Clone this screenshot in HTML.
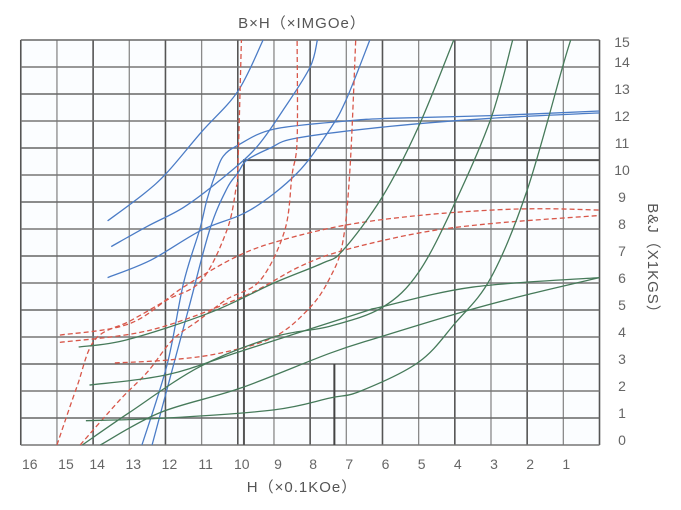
<!DOCTYPE html>
<html><head><meta charset="utf-8"><style>
html,body{margin:0;padding:0;background:#fff;}
svg{display:block;font-family:"Liberation Sans",sans-serif;}
</style></head><body>
<svg id="chart" width="681" height="510" viewBox="0 0 681 510">
<g id="grid"></g>
<g id="curves"></g>
<g id="labels"></g>
<text x="302" y="28" font-size="15" fill="#555" text-anchor="middle" letter-spacing="1">B×H（×IMGOe）</text>
<text x="302" y="492" font-size="15" fill="#555" text-anchor="middle" letter-spacing="1">H（×0.1KOe）</text>
<text transform="translate(648,262) rotate(90)" font-size="15" fill="#555" text-anchor="middle" letter-spacing="1">B&amp;J（X1KGS）</text>
</svg>
<script>
const xTicks=[16,15,14,13,12,11,10,9,8,7,6,5,4,3,2,1];
const yTicks=[0,1,2,3,4,5,6,7,8,9,10,11,12,13,14,15];
// blue curves (H, B)
const blueH1=[13.6,12.6,11.95,11.0,10.0,9.3];
const blueB1=[8.3,9.3,10.1,11.6,13.1,15];
const blueH2=[13.5,12.5,11.5,10.5,9.5,8.7,8.0,7.8];
const blueB2=[7.35,8.1,8.8,9.8,11.0,12.5,14.0,15];
const blueH3=[13.6,12.4,11.0,9.66,8.36,7.45,7.0,6.35];
const blueB3=[6.2,6.85,7.96,8.7,10.07,11.7,12.8,15];
const blueH4=[12.65,11.95,11.5,11.05,10.85,10.6,10.4,10.0,9.0,7.0,5.8,3.0,0];
const blueB4=[0,3,6,8,9.1,10.1,10.7,11.1,11.7,12.0,12.1,12.2,12.37];
const blueH5=[12.37,11.37,10.77,10.3,10.0,9.75,9.1,8.36,5.8,3.0,0];
const blueB5=[0,5,8,9.5,10.07,10.55,11.0,11.37,11.8,12.1,12.3];
// red dashed curves
const redH1=[15.0,14.45,13.95,12.97,11.96,11.0,10.3,10.05,10.0,9.9];
const redB1=[0,2.15,3.9,4.6,5.37,6.1,7.96,9.5,10.2,15];
const redH2=[14.36,13.26,12.5,11.8,11.1,10.3,9.38,8.7,8.5,8.36,8.36];
const redB2=[0,1.67,2.7,3.9,4.6,5.4,6.1,7.96,10,11.3,15];
const redH3=[13.4,11.9,10.5,9.0,8.0,7.45,7.1,6.9,6.74];
const redB3=[3.04,3.15,3.4,4.0,5.1,6.2,7.5,10.2,15];
const redH4=[14.92,12.98,11.5,10.0,8.75,7.0,5.0,3.0,1.5,0];
const redB4=[4.07,4.5,5.85,7.0,7.6,8.15,8.5,8.7,8.75,8.7];
const redH5=[14.92,12.4,9.85,8.3,7.1,5.0,3.0,0];
const redB5=[3.8,4.26,5.5,6.6,7.2,7.85,8.2,8.5];
// green curves
const greenH1=[14.4,13.06,10.77,9.0,7.65,7.1,6.0,5.0,4.0];
const greenB1=[3.63,3.9,4.9,6.0,6.74,7.2,9.2,11.8,15.1];
const greenH2=[14.1,11.96,9.85,6.6,6.07,3.5,0];
const greenB2=[2.22,2.6,3.5,4.9,5.1,5.85,6.2];
const greenH3=[14.3,13.0,11.05,9.0,7.45,6.0,5.0,4.0,3.0,2.4];
const greenB3=[0,1.2,2.9,4.0,4.4,5.1,6.4,8.96,12.1,15];
const greenH4=[13.8,12.15,9.94,7.45,6.07,3.6,1.9,0];
const greenB4=[0,1.2,2.1,3.4,4.0,5.0,5.6,6.2];
const greenH5=[14.2,11.96,9.0,7.45,6.6,5.0,4.0,3.0,2.0,1.0,0.77];
const greenB5=[0.9,1.0,1.3,1.74,2.0,3.07,4.5,6.2,9.44,14.1,15.1];

const NS='http://www.w3.org/2000/svg';
const X0=599.5, XS=36.17, Y0=445, YS=27;
function xAt(h){return X0-XS*h;}
function yAt(b){return Y0-YS*b;}
function mk(tag,attrs,parent){const e=document.createElementNS(NS,tag);for(const k in attrs)e.setAttribute(k,attrs[k]);parent.appendChild(e);return e;}
const grid=document.getElementById('grid');
const bg=mk('rect',{x:xAt(16),y:yAt(15),width:XS*16,height:YS*15,fill:'#fbfdff'},grid);


for(let i=0;i<=16;i++){
  const x=xAt(i);
  const dark=(i%2===0);
  const l=mk('line',{x1:x,y1:yAt(0),x2:x,y2:yAt(15),stroke:dark?'#555':'#8a8a8a','stroke-width':dark?1.6:1.3},grid);
  
  
}
for(let j=0;j<=15;j++){
  const y=yAt(j);
  const l=mk('line',{x1:xAt(16),y1:y,x2:xAt(0),y2:y,stroke:(j%2===0)?'#777':'#666','stroke-width':1.5},grid);
  
  
}
const m1=mk('polyline',{points:`${xAt(9.83)},${yAt(0)} ${xAt(9.83)},${yAt(10.55)} ${xAt(0)},${yAt(10.55)}`,fill:'none',stroke:'#555','stroke-width':2},grid);


const m2=mk('polyline',{points:`${xAt(7.33)},${yAt(0)} ${xAt(7.33)},${yAt(3)}`,fill:'none',stroke:'#444','stroke-width':2},grid);



const labels=document.getElementById('labels');
xTicks.forEach(h=>{
  const t=mk('text',{x:xAt(h)+(h>=15?9:h>=9?4:3),y:469,'font-size':14,fill:'#666','text-anchor':'middle'},labels);
  t.textContent=h;
  
  
});
yTicks.forEach(b=>{
  const t=mk('text',{x:622,y:yAt(b)+(b===15?7:0),'font-size':14,fill:'#666','text-anchor':'middle'},labels);
  t.textContent=b;
  
  
});

function pathFrom(hs,bs){
  const p=hs.map((h,i)=>[xAt(h),yAt(bs[i])]);
  let d=`M${p[0][0]},${p[0][1]}`;
  for(let i=0;i<p.length-1;i++){
    const p0=p[i-1]||p[i],p1=p[i],p2=p[i+1],p3=p[i+2]||p2;
    const c1=[p1[0]+(p2[0]-p0[0])/6,p1[1]+(p2[1]-p0[1])/6];
    const c2=[p2[0]-(p3[0]-p1[0])/6,p2[1]-(p3[1]-p1[1])/6];
    d+=` C${c1[0]},${c1[1]} ${c2[0]},${c2[1]} ${p2[0]},${p2[1]}`;
  }
  return d;
}
const curves=document.getElementById('curves');
const clip=mk('clipPath',{id:'cp'},curves);
mk('rect',{x:xAt(16),y:yAt(15),width:XS*16,height:YS*15},clip);
function draw(hs,bs,color,dash,name){
  const a={d:pathFrom(hs,bs),fill:'none',stroke:color,'stroke-width':1.3,'clip-path':'url(#cp)'};
  if(dash)a['stroke-dasharray']='5,3';
  const e=mk('path',a,curves);
  
  
}
const BLUE='#4b7cc6',RED='#d8574a',GREEN='#467a5a';
draw(blueH1,blueB1,BLUE,false,'blue-curve-1');
draw(blueH2,blueB2,BLUE,false,'blue-curve-2');
draw(blueH3,blueB3,BLUE,false,'blue-curve-3');
draw(blueH4,blueB4,BLUE,false,'blue-j-curve-1');
draw(blueH5,blueB5,BLUE,false,'blue-j-curve-2');
draw(redH1,redB1,RED,true,'red-curve-1');
draw(redH2,redB2,RED,true,'red-curve-2');
draw(redH3,redB3,RED,true,'red-curve-3');
draw(redH4,redB4,RED,true,'red-curve-4');
draw(redH5,redB5,RED,true,'red-curve-5');
draw(greenH1,greenB1,GREEN,false,'green-curve-1');
draw(greenH2,greenB2,GREEN,false,'green-curve-2');
draw(greenH3,greenB3,GREEN,false,'green-curve-3');
draw(greenH4,greenB4,GREEN,false,'green-curve-4');
draw(greenH5,greenB5,GREEN,false,'green-curve-5');
</script>
</body></html>
